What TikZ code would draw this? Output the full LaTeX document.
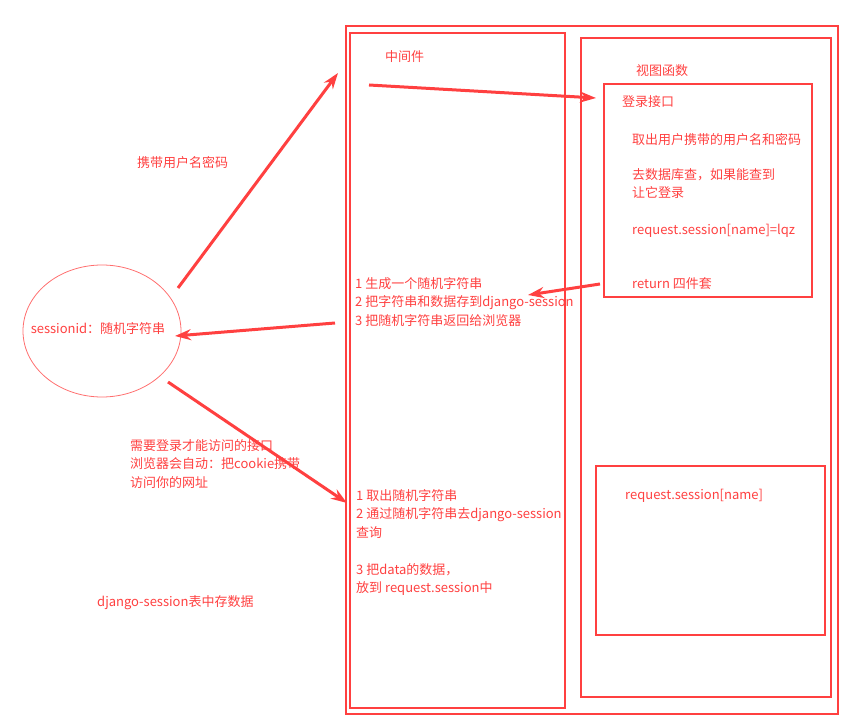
\documentclass[tikz,border=0pt]{standalone}
\usepackage{fontspec}
\setmainfont{Noto Sans CJK SC}
\usetikzlibrary{arrows.meta,calc,shapes.geometric}
\definecolor{rd}{RGB}{255,64,64}
\definecolor{rdl}{RGB}{255,110,110}
\tikzset{
  x=1pt,y=-1pt,
  box/.style={draw=rd,line width=1.8pt},
  lbl/.style={text=rd,font=\fontsize{13}{18.5}\selectfont,anchor=base west,inner sep=0pt,align=left},
  mlbl/.style={lbl,anchor=north west},
  arr/.style={draw=rd,line width=3pt,-{Stealth[length=16pt,width=11pt]}},
}
\begin{document}
\begin{tikzpicture}
\useasboundingbox (0,0) rectangle (855,727);
% boxes
\draw[box] (346,26) rectangle (838,714);
\draw[box] (350,33) rectangle (565,708);
\draw[box] (581,38) rectangle (831,697);
\draw[box] (604,84) rectangle (812,297);
\draw[box] (596,466) rectangle (825,635);
% ellipse
\node[draw=rdl,line width=0.8pt,ellipse,minimum width=158pt,minimum height=132pt,inner sep=0pt] (sess) at (102,331) {};
\node[lbl,anchor=base] (sesstxt) at (98,334) {sessionid：随机字符串};
% coordinates
\coordinate (a1s) at (178,288);
\coordinate (a1e) at (338,73);
\coordinate (a2s) at (369,85);
\coordinate (a2e) at (596,98);
\coordinate (a3s) at (600,284);
\coordinate (a3e) at (528,295);
\coordinate (a4s) at (335,323);
\coordinate (a4e) at (175,336);
\coordinate (a5s) at (168,382);
\coordinate (a5e) at (347,503);
\draw[arr] (a1s) -- (a1e);
\draw[arr] (a2s) -- (a2e);
\draw[arr] (a3s) -- (a3e);
\draw[arr] (a4s) -- (a4e);
\draw[arr] (a5s) -- (a5e);
% texts
\node[lbl] (t1) at (137,168) {携带用户名密码};
\node[lbl] (t2) at (385,62) {中间件};
\node[lbl] (t3) at (636,76) {视图函数};
\node[lbl] (t4) at (622,107) {登录接口};
\node[lbl] (t5) at (632,145) {取出用户携带的用户名和密码};
\node[mlbl] (t6) at (632,168) {去数据库查，如果能查到\\让它登录};
\node[lbl] (t7) at (632,235) {request.session[name]=lqz};
\node[lbl] (t8) at (632,289) {return 四件套};
\node[mlbl] (t9) at (355,277) {1 生成一个随机字符串\\2 把字符串和数据存到django-session\\3 把随机字符串返回给浏览器};
\node[mlbl] (t10) at (130,439) {需要登录才能访问的接口\\浏览器会自动：把cookie携带\\访问你的网址};
\node[mlbl] (t11) at (356,489) {1 取出随机字符串\\2 通过随机字符串去django-session\\查询\\[18.5pt]3 把data的数据，\\放到 request.session中};
\node[lbl] (t12) at (97,606) {django-session表中存数据};
\node[lbl] (t13) at (625,500) {request.session[name]};
\end{tikzpicture}
\end{document}
